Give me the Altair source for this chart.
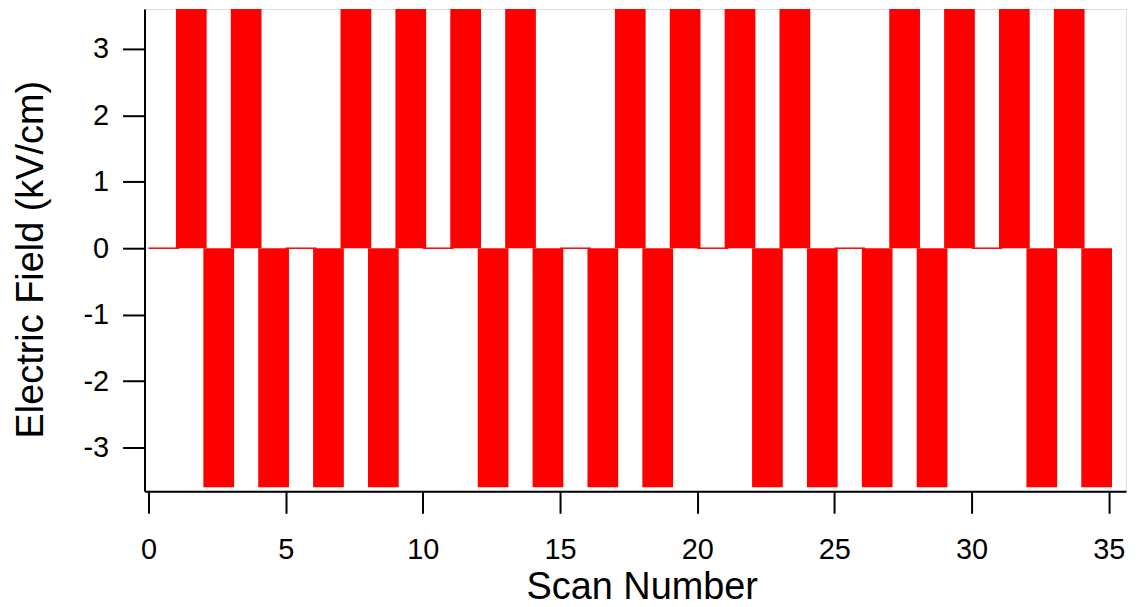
import altair as alt
import pandas as pd

scans = list(range(35))
field = [0, 3.6, -3.6, 3.6, -3.6, 0, -3.6, 3.6, -3.6, 3.6,
         0, 3.6, -3.6, 3.6, -3.6, 0, -3.6, 3.6, -3.6, 3.6,
         0, 3.6, -3.6, 3.6, -3.6, 0, -3.6, 3.6, -3.6, 3.6,
         0, 3.6, -3.6, 3.6, -3.6]
x_ticks = [0, 5, 10, 15, 20, 25, 30, 35]
y_ticks = [-3, -2, -1, 0, 1, 2, 3]

BAR_W = 1.12
df = pd.DataFrame({"scan": scans, "field": field})

FONT = "Liberation Sans, Arial, Helvetica, sans-serif"

xscale = alt.Scale(domain=[-0.145, 35.63], nice=False, zero=False)
yscale = alt.Scale(domain=[-3.66, 3.6], nice=False, zero=False)

xaxis = alt.Axis(values=x_ticks, title="Scan Number", grid=False,
                 labelExpr="'' + datum.value",
                 tickSize=22, tickWidth=2, domainWidth=2,
                 domainColor="black", tickColor="black",
                 labelFontSize=29, labelFont=FONT, labelColor="black",
                 labelPadding=22, labelFlush=False,
                 titleFontSize=38, titleFont=FONT, titleFontWeight="normal",
                 titleColor="black", titleX=499, titleY=108,
                 titleBaseline="alphabetic", titleAlign="center")
yaxis = alt.Axis(values=y_ticks, title="Electric Field (kV/cm)", grid=False,
                 labelExpr="'' + datum.value",
                 tickSize=22, tickWidth=2, domainWidth=2,
                 domainColor="black", tickColor="black",
                 labelFontSize=29, labelFont=FONT, labelColor="black",
                 labelPadding=14, labelFlush=False,
                 titleFontSize=38, titleFont=FONT, titleFontWeight="normal",
                 titleColor="black", titleX=-102, titleY=251,
                 titleAngle=270, titleBaseline="alphabetic", titleAlign="center")

base = alt.Chart(df).transform_calculate(scan_end=f"datum.scan + {BAR_W}")

bars = base.transform_filter("datum.field != 0").mark_bar(color="#ff0000").encode(
    x=alt.X("scan:Q", scale=xscale, axis=xaxis),
    x2="scan_end:Q",
    y=alt.Y("field:Q", scale=yscale, axis=yaxis),
    y2=alt.datum(0),
)

zeros = base.transform_filter("datum.field == 0").mark_rule(color="#ff0000", strokeWidth=1.5).encode(
    x=alt.X("scan:Q", scale=xscale),
    x2="scan_end:Q",
    y=alt.Y("field:Q", scale=yscale),
)

chart = alt.layer(bars, zeros).properties(
    width=985, height=484,
    autosize=alt.AutoSizeParams(type="none"),
    padding={"left": 137, "top": 0, "right": 5, "bottom": 114},
).configure_view(stroke=None).configure(background="white")

chart.save("out.html", embed_options={"renderer": "svg", "actions": False})
